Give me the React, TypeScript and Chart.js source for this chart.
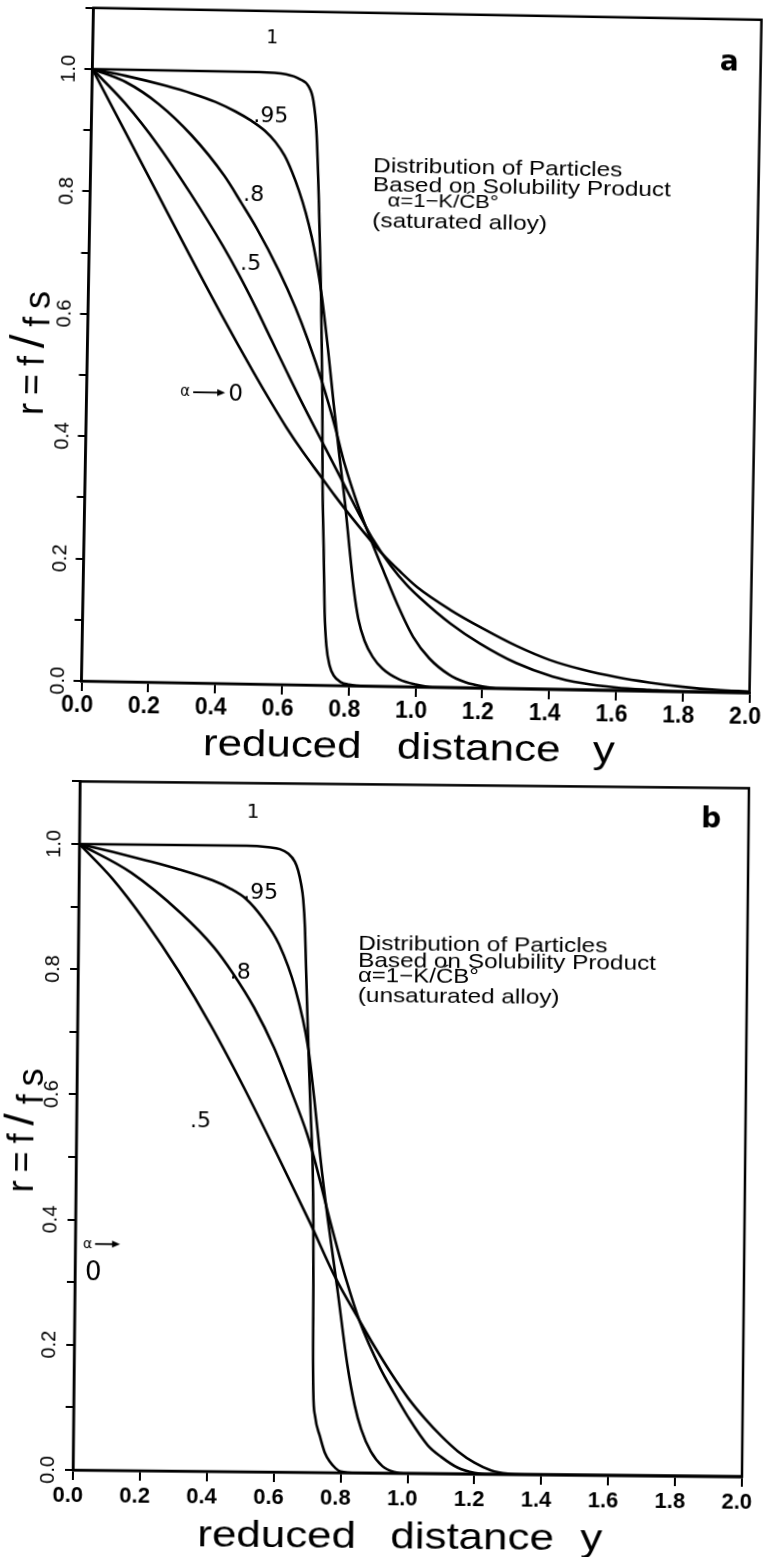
import { useEffect, useRef } from 'react';
import { Chart, registerables } from 'chart.js';

Chart.register(...registerables);

type Pt = [number, number];

// ---------- axes ----------
const X_TICK_LABELS = ['0.0', '0.2', '0.4', '0.6', '0.8', '1.0', '1.2', '1.4', '1.6', '1.8', '2.0'];
const Y_TICK_LABELS = ['0.0', '0.2', '0.4', '0.6', '0.8', '1.0'];
const X_TITLE_WORDS = ['reduced', 'distance', 'y'];
const Y_TITLE_PARTS = ['r', '=', 'f', '/', 'f', 's'];
const CURVE_NAMES = ['1', '.95', '.8', '.5'];

// ---------- panel a : saturated alloy (r = f/fs vs reduced distance y) ----------
const SAT_ALPHA_1: Pt[] = [[0, 1], [0.3, 1], [0.5, 1], [0.58, 0.997], [0.62, 0.99], [0.648, 0.978], [0.663, 0.955], [0.674, 0.905], [0.685, 0.79], [0.697, 0.63], [0.706, 0.466], [0.711, 0.33], [0.718, 0.22], [0.724, 0.12], [0.731, 0.065], [0.742, 0.032], [0.755, 0.016], [0.775, 0.006], [0.8, 0.002], [0.85, 0], [2, 0]];
const SAT_ALPHA_095: Pt[] = [[0, 1], [0.1, 0.99], [0.22, 0.975], [0.3, 0.963], [0.37, 0.95], [0.43, 0.935], [0.479, 0.92], [0.52, 0.904], [0.552, 0.886], [0.58, 0.864], [0.602, 0.839], [0.625, 0.807], [0.646, 0.772], [0.665, 0.733], [0.68, 0.695], [0.699, 0.635], [0.72, 0.55], [0.74, 0.46], [0.76, 0.375], [0.78, 0.295], [0.795, 0.225], [0.81, 0.158], [0.825, 0.11], [0.845, 0.074], [0.87, 0.048], [0.9, 0.029], [0.95, 0.012], [1.0, 0.004], [1.05, 0], [2, 0]];
const SAT_ALPHA_08: Pt[] = [[0, 1], [0.1, 0.98], [0.2, 0.945], [0.3, 0.895], [0.4, 0.83], [0.454, 0.785], [0.5, 0.745], [0.569, 0.676], [0.62, 0.617], [0.66, 0.563], [0.705, 0.494], [0.744, 0.425], [0.776, 0.362], [0.82, 0.292], [0.864, 0.232], [0.9, 0.186], [0.94, 0.136], [0.99, 0.082], [1.04, 0.047], [1.1, 0.021], [1.15, 0.009], [1.2, 0.003], [1.25, 0], [2, 0]];
const SAT_ALPHA_05: Pt[] = [[0, 1], [0.1, 0.945], [0.2, 0.878], [0.3, 0.8], [0.4, 0.715], [0.45, 0.668], [0.5, 0.617], [0.55, 0.563], [0.6, 0.509], [0.65, 0.456], [0.713, 0.392], [0.771, 0.333], [0.82, 0.283], [0.861, 0.243], [0.92, 0.197], [0.969, 0.166], [1.01, 0.145], [1.1, 0.105], [1.19, 0.073], [1.3, 0.042], [1.41, 0.021], [1.5, 0.011], [1.6, 0.005], [1.7, 0.002], [1.8, 0], [2, 0]];
const SAT_ALPHA_0: Pt[] = [[0, 1], [0.1, 0.9], [0.2, 0.8], [0.3, 0.7], [0.4, 0.602], [0.5, 0.508], [0.55, 0.463], [0.6, 0.42], [0.65, 0.381], [0.7, 0.345], [0.75, 0.309], [0.8, 0.275], [0.861, 0.236], [0.9, 0.213], [0.946, 0.189], [1.0, 0.163], [1.1, 0.127], [1.2, 0.097], [1.3, 0.07], [1.4, 0.048], [1.5, 0.033], [1.6, 0.022], [1.7, 0.014], [1.8, 0.008], [1.9, 0.004], [2, 0.002]];

// ---------- panel b : unsaturated alloy ----------
const UNSAT_ALPHA_1: Pt[] = [[0, 1], [0.3, 1], [0.5, 1], [0.565, 0.998], [0.6, 0.995], [0.625, 0.988], [0.645, 0.975], [0.655, 0.961], [0.664, 0.94], [0.671, 0.915], [0.677, 0.87], [0.681, 0.813], [0.687, 0.73], [0.693, 0.653], [0.7, 0.57], [0.707, 0.493], [0.711, 0.4], [0.713, 0.3], [0.714, 0.2], [0.716, 0.13], [0.722, 0.09], [0.737, 0.058], [0.752, 0.032], [0.768, 0.017], [0.785, 0.007], [0.8, 0.002], [0.85, 0], [2, 0]];
const UNSAT_ALPHA_095: Pt[] = [[0, 1], [0.1, 0.988], [0.2, 0.975], [0.3, 0.961], [0.4, 0.944], [0.45, 0.932], [0.5, 0.915], [0.55, 0.885], [0.6, 0.843], [0.65, 0.772], [0.69, 0.679], [0.71, 0.597], [0.73, 0.503], [0.753, 0.409], [0.785, 0.293], [0.817, 0.172], [0.84, 0.108], [0.86, 0.07], [0.89, 0.034], [0.925, 0.011], [0.96, 0.002], [1.0, 0], [2, 0]];
const UNSAT_ALPHA_08: Pt[] = [[0, 1], [0.156, 0.955], [0.306, 0.891], [0.406, 0.837], [0.463, 0.796], [0.527, 0.742], [0.588, 0.678], [0.64, 0.61], [0.69, 0.54], [0.71, 0.505], [0.762, 0.4], [0.81, 0.31], [0.854, 0.24], [0.915, 0.168], [0.955, 0.13], [1.0, 0.09], [1.06, 0.045], [1.1, 0.027], [1.15, 0.01], [1.2, 0.002], [1.25, 0], [2, 0]];
const UNSAT_ALPHA_05: Pt[] = [[0, 1], [0.1, 0.945], [0.2, 0.877], [0.3, 0.799], [0.4, 0.711], [0.5, 0.613], [0.6, 0.508], [0.7, 0.4], [0.78, 0.31], [0.85, 0.245], [0.9, 0.2], [0.95, 0.158], [1.0, 0.12], [1.05, 0.088], [1.1, 0.06], [1.15, 0.036], [1.2, 0.018], [1.25, 0.006], [1.3, 0.001], [1.35, 0], [2, 0]];

const NOTE_SAT = ['Distribution of Particles', 'Based on Solubility Product', 'α=1−K/ĆB°', '(saturated alloy)'];
const NOTE_UNSAT = ['Distribution of Particles', 'Based on Solubility Product', 'α=1−K/ĆB°', '(unsaturated alloy)'];

// ---------- styling / layout ----------
const LIB = '"Liberation Sans", Arial, sans-serif';
const DJV = '"DejaVu Sans", sans-serif';

interface Label { text: string; u: number; v: number; align: CanvasTextAlign; font: string }
interface Panel {
  series: Pt[][];
  height: number;
  rotate: number;
  origin: [number, number];
  padding: { left: number; top: number; right: number; bottom: number };
  letter: Label;
  labels: Label[];
  alpha: { u: number; v: number; size: number; ax1: number; ax2: number; ay: number };
  zero: { u: number; v: number; size: number };
  note: string[];
  noteAt: [number, number];
  noteOffsets: number[];
  noteIndent: number[];
  noteFonts: string[];
  noteScale: number[];
  xTickFont: string;
  xTickBaseline: number;
  xTickShift: number;
  yTickFont: string;
  yTickOffset: number;
  xTitleX: number[];
  xTitleBaseline: number;
  yTitleX: number;
  yTitleStart: number;
  yTitleLower: number;
}

const NOTE_FONT = `21px ${LIB}`;

const PANEL_A: Panel = {
  series: [SAT_ALPHA_1, SAT_ALPHA_095, SAT_ALPHA_08, SAT_ALPHA_05, SAT_ALPHA_0],
  height: 778,
  rotate: 1.02,
  origin: [81.5, 681],
  padding: { left: 61.5, top: 7.8, right: 18.4, bottom: 77 },
  letter: { text: 'a', u: 1.906, v: 1.017, align: 'center', font: `bold 28px ${DJV}` },
  labels: [
    { text: CURVE_NAMES[0], u: 0.537, v: 1.048, align: 'center', font: `19px ${DJV}` },
    { text: CURVE_NAMES[1], u: 0.484, v: 0.918, align: 'left', font: `22px ${DJV}` },
    { text: CURVE_NAMES[2], u: 0.458, v: 0.79, align: 'left', font: `22px ${DJV}` },
    { text: CURVE_NAMES[3], u: 0.453, v: 0.676, align: 'left', font: `22px ${DJV}` },
  ],
  alpha: { u: 0.28, v: 0.4685, size: 15, ax1: 13, ax2: 45, ay: -4 },
  zero: { u: 0.424, v: 0.463, size: 23 },
  note: NOTE_SAT,
  noteAt: [0.846, 0.84],
  noteOffsets: [0, 19, 34, 55],
  noteIndent: [0, 0, 15, 0],
  noteFonts: [NOTE_FONT, NOTE_FONT, `19px ${LIB}`, NOTE_FONT],
  noteScale: [1.16, 1.16, 1.16, 1.16],
  xTickFont: `bold 23px ${LIB}`,
  xTickBaseline: 31,
  xTickShift: -4,
  yTickFont: `20px ${LIB}`,
  yTickOffset: 23,
  xTitleX: [204, 398, 594],
  xTitleBaseline: 753,
  yTitleX: 38,
  yTitleStart: 416,
  yTitleLower: 5,
};

const PANEL_B: Panel = {
  series: [UNSAT_ALPHA_1, UNSAT_ALPHA_095, UNSAT_ALPHA_08, UNSAT_ALPHA_05],
  height: 779,
  rotate: 0.58,
  origin: [73, 692],
  padding: { left: 53, top: 3.4, right: 26, bottom: 67 },
  letter: { text: 'b', u: 1.888, v: 1.036, align: 'center', font: `bold 28px ${DJV}` },
  labels: [
    { text: CURVE_NAMES[0], u: 0.518, v: 1.044, align: 'center', font: `20px ${DJV}` },
    { text: CURVE_NAMES[1], u: 0.491, v: 0.916, align: 'left', font: `22px ${DJV}` },
    { text: CURVE_NAMES[2], u: 0.454, v: 0.788, align: 'left', font: `22px ${DJV}` },
    { text: CURVE_NAMES[3], u: 0.339, v: 0.55, align: 'left', font: `22px ${DJV}` },
  ],
  alpha: { u: 0.0233, v: 0.355, size: 14, ax1: 12, ax2: 37, ay: -4 },
  zero: { u: 0.03, v: 0.304, size: 26 },
  note: NOTE_UNSAT,
  noteAt: [0.837, 0.835],
  noteOffsets: [0, 17, 32, 52],
  noteIndent: [0, 0, 0, 0],
  noteFonts: [NOTE_FONT, NOTE_FONT, `20px ${LIB}`, NOTE_FONT],
  noteScale: [1.16, 1.16, 1.2, 1.16],
  xTickFont: `bold 22px ${LIB}`,
  xTickBaseline: 32,
  xTickShift: -5,
  yTickFont: `20px ${LIB}`,
  yTickOffset: 25,
  xTitleX: [198, 391, 581],
  xTitleBaseline: 767,
  yTitleX: 30,
  yTitleStart: 415,
  yTitleLower: 9,
};

function fillStretched(ctx: CanvasRenderingContext2D, text: string, x: number, y: number, sx: number) {
  ctx.save();
  ctx.translate(x, y);
  ctx.scale(sx, 1);
  ctx.fillText(text, 0, 0);
  ctx.restore();
}

function overlay(p: Panel) {
  return {
    id: 'overlay',
    afterDraw(chart: any) {
      const { ctx, chartArea: a, scales } = chart;
      const xs = scales.x;
      const ys = scales.y;
      const X = (u: number) => xs.getPixelForValue(u);
      const Y = (v: number) => ys.getPixelForValue(v);
      ctx.save();
      ctx.fillStyle = '#000';
      ctx.strokeStyle = '#000';

      // frame
      ctx.lineWidth = 2.5;
      ctx.strokeRect(a.left, a.top, a.right - a.left, a.bottom - a.top);

      // x tick labels
      ctx.font = p.xTickFont;
      ctx.textAlign = 'center';
      ctx.textBaseline = 'alphabetic';
      X_TICK_LABELS.forEach((t) => ctx.fillText(t, X(parseFloat(t)) + p.xTickShift, a.bottom + p.xTickBaseline));

      // y tick labels (rotated)
      ctx.font = p.yTickFont;
      ctx.textBaseline = 'middle';
      Y_TICK_LABELS.forEach((t) => {
        ctx.save();
        ctx.translate(a.left - p.yTickOffset, Y(parseFloat(t)));
        ctx.rotate(-Math.PI / 2);
        ctx.textAlign = 'center';
        ctx.fillText(t, 0, 0);
        ctx.restore();
      });

      // curve labels and panel letter
      ctx.textBaseline = 'alphabetic';
      [...p.labels, p.letter].forEach((l) => {
        ctx.font = l.font;
        ctx.textAlign = l.align;
        ctx.fillText(l.text, X(l.u), Y(l.v));
      });

      // alpha -> 0
      ctx.textAlign = 'left';
      const axp = X(p.alpha.u);
      const ayp = Y(p.alpha.v);
      ctx.font = `${p.alpha.size}px ${DJV}`;
      ctx.fillText('α', axp, ayp);
      const ay = ayp + p.alpha.ay;
      ctx.lineWidth = 1.8;
      ctx.beginPath();
      ctx.moveTo(axp + p.alpha.ax1, ay);
      ctx.lineTo(axp + p.alpha.ax2 - 5, ay);
      ctx.stroke();
      ctx.beginPath();
      ctx.moveTo(axp + p.alpha.ax2, ay);
      ctx.lineTo(axp + p.alpha.ax2 - 8, ay - 3.5);
      ctx.lineTo(axp + p.alpha.ax2 - 8, ay + 3.5);
      ctx.closePath();
      ctx.fill();
      ctx.font = `${p.zero.size}px ${DJV}`;
      ctx.fillText('0', X(p.zero.u), Y(p.zero.v));

      // note block
      const nx = X(p.noteAt[0]);
      const ny = Y(p.noteAt[1]);
      p.note.forEach((line, i) => {
        ctx.font = p.noteFonts[i];
        fillStretched(ctx, line, nx + p.noteIndent[i], ny + p.noteOffsets[i], p.noteScale[i]);
      });

      // x title
      ctx.font = `36px ${LIB}`;
      X_TITLE_WORDS.forEach((w, i) => fillStretched(ctx, w, p.xTitleX[i], p.xTitleBaseline, 1.22));

      // y title (rotated): r=f/fs
      ctx.save();
      ctx.translate(p.yTitleX, p.yTitleStart);
      ctx.rotate(-Math.PI / 2);
      let cx = 0;
      Y_TITLE_PARTS.forEach((s, i) => {
        const big = s === '/';
        ctx.font = big ? `48px ${LIB}` : `36px ${LIB}`;
        const dy = i >= 4 ? p.yTitleLower : 0;
        ctx.fillText(s, cx, dy);
        cx += ctx.measureText(s).width + 8;
      });
      ctx.restore();

      ctx.restore();
    },
  };
}

function makeChart(canvas: HTMLCanvasElement, p: Panel) {
  const datasets = p.series.map((s) => ({
    data: s.map(([x, y]) => ({ x, y })),
    borderColor: '#000',
    borderWidth: 2.6,
    pointRadius: 0,
    fill: false,
    cubicInterpolationMode: 'monotone' as const,
  }));
  return new Chart(canvas, {
    type: 'line',
    data: { datasets },
    options: {
      animation: false,
      responsive: false,
      events: [],
      layout: { padding: p.padding },
      plugins: { legend: { display: false }, tooltip: { enabled: false }, title: { display: false } },
      scales: {
        x: {
          type: 'linear',
          min: 0,
          max: 2,
          ticks: { display: false, stepSize: 0.2 },
          grid: { display: true, drawOnChartArea: false, drawTicks: true, tickLength: 10, lineWidth: 2, color: '#000' },
          border: { display: true, color: '#000', width: 2.5 },
          afterFit: (s: any) => { s.height = 20; },
        },
        y: {
          type: 'linear',
          min: 0,
          max: 1.1,
          ticks: { display: false, stepSize: 0.1 },
          grid: { display: true, drawOnChartArea: false, drawTicks: true, tickLength: 8, lineWidth: 2, color: '#000' },
          border: { display: true, color: '#000', width: 2.5 },
          afterFit: (s: any) => { s.width = 20; },
        },
      },
    },
    plugins: [overlay(p)],
  } as any);
}

export default function App() {
  const refA = useRef<HTMLCanvasElement>(null);
  const refB = useRef<HTMLCanvasElement>(null);
  useEffect(() => {
    const ca = makeChart(refA.current!, PANEL_A);
    const cb = makeChart(refB.current!, PANEL_B);
    return () => {
      ca.destroy();
      cb.destroy();
    };
  }, []);
  const style = (p: Panel, top: number): any => ({
    position: 'absolute',
    left: 0,
    top,
    width: 768,
    height: p.height,
    transform: `rotate(${p.rotate}deg)`,
    transformOrigin: `${p.origin[0]}px ${p.origin[1]}px`,
  });
  return (
    <div style={{ position: 'absolute', left: 0, top: 0, width: 768, height: 1557, overflow: 'hidden', background: '#fff' }}>
      <canvas ref={refA} width={768} height={778} style={style(PANEL_A, 0)} />
      <canvas ref={refB} width={768} height={779} style={style(PANEL_B, 778)} />
    </div>
  );
}
